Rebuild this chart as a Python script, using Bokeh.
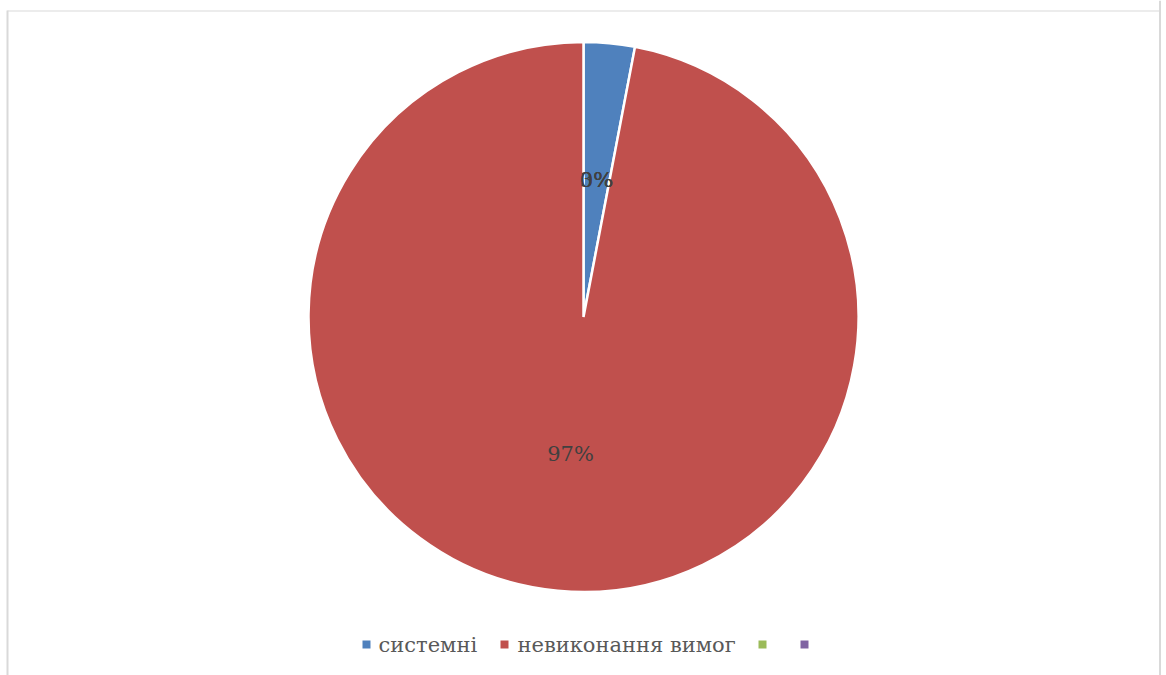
import math
from bokeh.plotting import figure
from bokeh.models import Range1d
from bokeh.core.properties import value
from bokeh.embed import file_html
from bokeh.resources import INLINE

# ---- data ----
categories = ["системні", "невиконання вимог", "", ""]
values = [3, 97, 0, 0]
colors = ["#4F81BD", "#C0504D", "#9BBB59", "#8064A2"]

W, H = 1166, 675
FONT = "DejaVu Serif"

p = figure(width=W, height=H, output_backend="svg", toolbar_location=None,
           x_range=Range1d(0, W), y_range=Range1d(0, H), min_border=0)
p.axis.visible = False
p.grid.visible = False
p.outline_line_color = None
p.background_fill_color = "white"
p.border_fill_color = "white"

# frame border
p.line([7, 7], [H - 10, 0], line_color="#d9d9d9", line_width=2)
p.line([7, 1159], [H - 10.5, H - 10.5], line_color="#d9d9d9", line_width=1)
p.line([1159.5, 1159.5], [H, 0], line_color="#d9d9d9", line_width=2)

# pie
cx, cy, R = 583, H - 316.5, 275
total = float(sum(values))
cum = 0.0
starts, ends, mids = [], [], []
for v in values:
    a0 = math.pi / 2 - 2 * math.pi * cum / total
    cum += v
    a1 = math.pi / 2 - 2 * math.pi * cum / total
    starts.append(a1)
    ends.append(a0)
    mids.append((a0 + a1) / 2)

nz = [i for i, v in enumerate(values) if v > 0]
p.wedge(x=[cx] * len(nz), y=[cy] * len(nz), radius=R,
        start_angle=[starts[i] for i in nz], end_angle=[ends[i] for i in nz],
        fill_color=[colors[i] for i in nz], line_color="white", line_width=2.5)

# data labels
lx, ly, lt = [], [], []
for i, v in enumerate(values):
    ang = mids[i] if v > 0 else mids[0]
    lx.append(cx + 0.5 * R * math.cos(ang))
    ly.append(cy + 0.5 * R * math.sin(ang))
    lt.append(f"{round(100 * v / total)}%")
# draw zero labels first so non-zero labels on top
order = [i for i in range(len(values)) if values[i] == 0] + nz
p.text(x=[lx[i] for i in order], y=[ly[i] for i in order], text=[lt[i] for i in order],
       text_font=value(FONT), text_font_size="21px", text_color="#404040",
       text_align="center", text_baseline="middle")

# legend
sq_x = [366, 504, 762, 804]
tx = [378, 517, 776, 818]
ly_leg = H - 644
p.scatter(x=sq_x, y=[ly_leg] * 4, marker="square", size=8,
          fill_color=colors, line_color=None)
p.text(x=tx, y=[ly_leg] * 4, text=categories,
       text_font=value(FONT), text_font_size="21px", text_color="#595959",
       text_align="left", text_baseline="middle")

open("out.html", "w").write(file_html(p, INLINE))
